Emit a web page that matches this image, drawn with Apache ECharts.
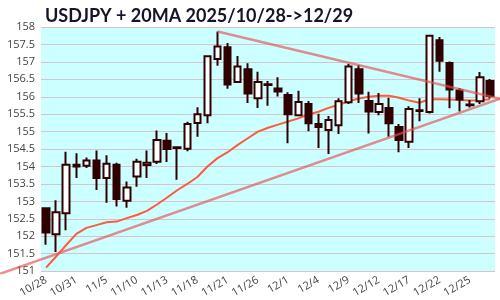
<!DOCTYPE html>
<html><head><meta charset="utf-8">
<script src="https://cdn.jsdelivr.net/npm/echarts@6/dist/echarts.min.js"></script>
<style>html,body{margin:0;padding:0;background:#fff}#c{width:500px;height:300px}</style>
</head><body><div id="c"></div>
<script>
var dates = ["10/28","10/29","10/30","10/31","11/3","11/4","11/5","11/6","11/7","11/10","11/11","11/12","11/13","11/14","11/17","11/18","11/19","11/20","11/21","11/24","11/25","11/26","11/27","11/28","12/1","12/2","12/3","12/4","12/5","12/8","12/9","12/10","12/11","12/12","12/15","12/16","12/17","12/18","12/19","12/22","12/23","12/24","12/25","12/26","12/29"];
var opens  = [152.80,152.06,152.66,154.00,154.02,154.17,153.67,154.05,153.02,153.71,154.04,154.14,154.74,154.55,154.51,155.25,155.47,157.08,157.42,156.42,156.79,155.96,156.36,156.24,156.05,155.47,155.79,155.22,155.05,155.18,155.84,156.79,155.88,155.56,155.68,155.13,154.71,155.61,155.56,157.62,156.97,156.18,155.78,155.87,156.45];
var closes = [152.11,152.69,154.05,154.05,154.17,153.67,154.08,153.07,153.40,154.14,154.11,154.76,154.50,154.53,155.22,155.50,157.16,157.44,156.35,156.87,156.09,156.42,156.34,156.15,155.50,155.85,155.24,155.13,155.33,155.87,156.87,156.09,155.58,155.79,155.24,154.76,155.65,155.59,157.75,157.03,156.21,155.92,155.76,156.56,156.02];
var lows   = [151.76,151.55,152.17,153.67,153.96,153.33,152.96,152.85,152.82,153.42,153.67,154.07,154.13,153.62,154.44,154.85,155.24,156.89,156.23,156.40,155.82,155.68,155.74,156.01,154.67,155.45,155.01,154.53,154.36,154.93,155.79,155.82,154.95,155.47,154.85,154.41,154.53,155.30,155.52,156.72,155.67,155.58,155.69,155.79,155.95];
var highs  = [152.83,153.03,154.42,154.38,154.26,154.46,154.32,154.11,153.57,154.22,154.46,155.03,154.96,154.56,155.28,155.70,157.18,157.87,157.54,157.17,156.96,156.72,156.45,156.56,156.13,156.17,155.88,155.51,155.45,155.96,156.94,156.91,156.14,156.11,155.97,155.22,155.73,155.96,157.76,157.71,157.01,156.25,155.91,156.71,156.51];
var ma20   = [151.10,151.42,151.75,152.07,152.24,152.32,152.40,152.42,152.52,152.61,152.73,152.91,153.11,153.32,153.50,153.70,154.00,154.24,154.41,154.62,154.81,155.00,155.11,155.20,155.29,155.38,155.49,155.57,155.68,155.77,155.87,155.95,156.00,156.03,156.03,155.97,155.89,155.83,155.93,155.93,155.92,155.91,155.89,155.90,155.93];
// trend lines: [candle index position, price]
var trendUpper = [[17, 157.87], [45, 155.96]];
var trendLower = [[-4.56, 150.98], [45, 155.96]];
var yTicks = [151, 158, 0.5];

var kdata = opens.map(function(o, i){ return [o, closes[i], lows[i], highs[i]]; });
var W = 500, gl = 41, gr = 5;
var step = (W - gl - gr) / dates.length;
var chart = echarts.init(document.getElementById('c'), null, {renderer:'canvas'});
chart.setOption({
  animation: false,
  title: {text: 'USDJPY + 20MA 2025/10/28->12/29', left: 40, top: 2,
    textStyle: {fontFamily: 'Lato', fontWeight: 'bold', fontSize: 18, color: '#14142a'}},
  grid: [
    {left: gl, right: gr, top: 27, bottom: 27, show: true, backgroundColor: '#ccffff', borderWidth: 0},
    {left: 0, right: 0, top: 27, bottom: 27, show: false}
  ],
  xAxis: [{
    type: 'category', data: dates, boundaryGap: true, gridIndex: 0,
    axisLine: {show: false}, axisTick: {show: false},
    axisLabel: {interval: 2, rotate: 30, fontSize: 11, color: '#444', fontFamily: 'Open Sans', margin: 8},
    splitLine: {show: false}
  }, {
    type: 'value', gridIndex: 1, show: false,
    min: -0.5 - gl / step, max: dates.length - 0.5 + gr / step
  }],
  yAxis: [{
    type: 'value', gridIndex: 0, min: yTicks[0], max: yTicks[1], interval: yTicks[2],
    axisLine: {show: false}, axisTick: {show: false},
    axisLabel: {fontSize: 11, color: '#444', fontFamily: 'Open Sans', margin: 6},
    splitLine: {lineStyle: {color: '#d6c4cc', width: 1}}
  }, {
    type: 'value', gridIndex: 1, min: yTicks[0], max: yTicks[1], show: false
  }],
  series: [{
    type: 'line', data: ma20, symbol: 'none', smooth: false, z: 2,
    lineStyle: {color: '#ff5a3c', width: 2}
  }, {
    type: 'candlestick', data: kdata, barWidth: 7, z: 3,
    itemStyle: {color: '#ffffff', color0: '#300000', borderColor: '#300000', borderColor0: '#300000', borderWidth: 2}
  }, {
    type: 'line', xAxisIndex: 1, yAxisIndex: 1, data: trendUpper, symbol: 'none', z: 4,
    lineStyle: {color: 'rgba(230,80,80,0.65)', width: 2.5}
  }, {
    type: 'line', xAxisIndex: 1, yAxisIndex: 1, data: trendLower, symbol: 'none', z: 4,
    lineStyle: {color: 'rgba(230,80,80,0.65)', width: 2.5}
  }]
});
</script></body></html>
